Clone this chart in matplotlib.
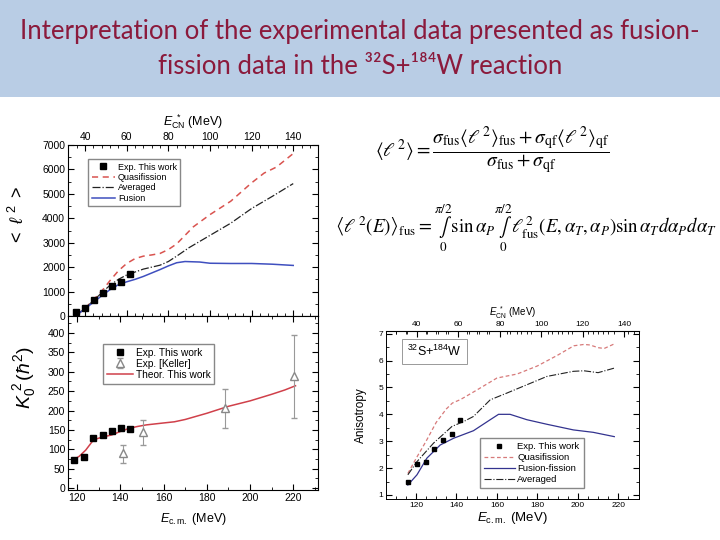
import matplotlib
matplotlib.use('Agg')
from matplotlib import pyplot as plt
from matplotlib.patches import Rectangle
from matplotlib.ticker import MultipleLocator, AutoMinorLocator

plt.rcParams['font.family'] = ['Liberation Sans', 'DejaVu Sans']
plt.rcParams['mathtext.fontset'] = 'custom'
plt.rcParams['mathtext.rm'] = 'Liberation Sans'
plt.rcParams['mathtext.it'] = 'Liberation Sans:italic'
plt.rcParams['mathtext.bf'] = 'Liberation Sans:bold'
plt.rcParams['mathtext.sf'] = 'Liberation Sans'

# <l^2> vs E*_CN (top left)
l2_exp_x = [35.6, 39.8, 44.3, 48.7, 52.8, 57.1, 61.6]
l2_exp_y = [150, 315, 645, 945, 1215, 1405, 1720]
l2_qf_x = [36, 40, 44, 48, 52, 56, 60, 64, 68, 72, 76, 80, 84, 88, 92, 100, 110, 120, 126, 132, 140]
l2_qf_y = [40, 320, 660, 1020, 1450, 1850, 2150, 2350, 2450, 2500, 2560, 2720, 2950, 3300, 3650, 4150, 4700, 5450, 5850, 6100, 6650]
l2_avg_x = [36, 40, 44, 48, 52, 56, 60, 64, 68, 72, 76, 80, 84, 90, 100, 110, 120, 130, 140]
l2_avg_y = [40, 310, 630, 950, 1260, 1500, 1680, 1800, 1920, 2000, 2080, 2230, 2450, 2800, 3300, 3800, 4400, 4900, 5420]
l2_fus_x = [36, 40, 44, 48, 52, 56, 60, 64, 68, 72, 76, 80, 84, 88, 95, 100, 110, 120, 130, 140]
l2_fus_y = [40, 300, 560, 830, 1080, 1280, 1400, 1500, 1620, 1760, 1900, 2050, 2180, 2230, 2210, 2160, 2150, 2150, 2120, 2070]

# K0^2 vs Ecm (bottom left)
k_exp_x = [118.5, 123, 127.5, 131.8, 136, 140.3, 144.5]
k_exp_y = [72, 81, 130, 138, 148, 156, 153]
keller_x = [141.4, 150.7, 188.2, 220.1]
keller_y = [90, 145, 207, 288]
keller_lo = [65, 112, 155, 180]
keller_hi = [112, 175, 255, 395]
theo_x = [118, 121, 124, 127, 129, 132, 136, 140, 144, 148, 152, 160, 165, 170, 180, 190, 200, 210, 216, 221]
theo_y = [72, 82, 98, 120, 127, 132, 137, 146, 154, 159, 163, 168, 171, 177, 193, 211, 225, 242, 253, 264]

# Anisotropy vs Ecm (bottom right)
ani_exp_x = [116.0, 120.5, 124.9, 129.0, 133.5, 137.8, 141.9]
ani_exp_y = [1.50, 2.16, 2.24, 2.71, 3.04, 3.27, 3.80]
ani_qf_x = [116, 120, 125, 130, 135, 138, 142, 150, 160, 170, 180, 190, 198, 203, 206, 210, 213, 218]
ani_qf_y = [1.8, 2.35, 3.0, 3.7, 4.2, 4.42, 4.55, 4.9, 5.35, 5.5, 5.8, 6.2, 6.55, 6.6, 6.58, 6.48, 6.45, 6.62]
ani_avg_x = [116, 120.5, 128.7, 137.8, 143.5, 148.4, 156.7, 164.9, 174.8, 184.7, 197.8, 203, 210, 218]
ani_avg_y = [1.75, 2.24, 2.93, 3.55, 3.73, 3.92, 4.54, 4.79, 5.1, 5.41, 5.6, 5.62, 5.55, 5.72]
ani_fus_x = [116, 120.5, 125.4, 132, 138.6, 148.4, 156.7, 160.8, 166.5, 174.8, 184.7, 197.8, 207.6, 218]
ani_fus_y = [1.37, 1.75, 2.37, 2.86, 3.11, 3.39, 3.8, 4.0, 4.0, 3.8, 3.63, 3.42, 3.33, 3.17]


def style_ticks(ax, size=7):
    ax.tick_params(which='both', direction='in', top=True, right=True, labelsize=size, pad=2)
    ax.tick_params(which='major', length=4, width=0.8)
    ax.tick_params(which='minor', length=2, width=0.6)


fig = plt.figure(figsize=(7.2, 5.4), dpi=100)

# title banner
fig.patches.append(Rectangle((0, 0.82), 1, 0.18, transform=fig.transFigure,
                             facecolor='#B9CDE5', edgecolor='none', zorder=0))
title_kw = dict(ha='center', va='center', fontsize=18.5, color='#8B1A3C',
                family=['Lato', 'DejaVu Sans'])
fig.text(0.5, 1 - 32 / 540, 'Interpretation of the experimental data presented as fusion-', **title_kw)
fig.text(0.5, 1 - 67 / 540, 'fission data in the \u00b3\u00b2S+\u00b9\u2078\u2074W reaction', **title_kw)

# top left panel
ax1 = fig.add_axes([68 / 720, 1 - 316 / 540, 250 / 720, 171 / 540])
ax1.plot(l2_qf_x, l2_qf_y, '--', color='#D9534F', lw=1.1, label='Quasifission', dashes=(4, 3))
ax1.plot(l2_avg_x, l2_avg_y, '-.', color='#222222', lw=0.9, label='Averaged')
ax1.plot(l2_fus_x, l2_fus_y, '-', color='#3F4FBF', lw=1.1, label='Fusion')
ax1.plot(l2_exp_x, l2_exp_y, 's', color='black', ms=4.5, label='Exp. This work', zorder=5)
ax1.set_xlim(31.8, 151.9)
ax1.set_ylim(0, 7000)
ax1.xaxis.set_major_locator(MultipleLocator(20))
ax1.xaxis.set_minor_locator(AutoMinorLocator(5))
ax1.yaxis.set_major_locator(MultipleLocator(1000))
ax1.yaxis.set_minor_locator(AutoMinorLocator(2))
style_ticks(ax1, size=7.5)
ax1.tick_params(axis='x', labelbottom=False, labeltop=True)
ax1.xaxis.set_label_position('top')
ax1.set_xlabel(r'$E^{\ *}_{\mathrm{CN}}$ (MeV)', fontsize=9, labelpad=5)
ax1.set_ylabel(r'$<\ \ell^{\ 2}\ >$', fontsize=13)
ax1.yaxis.set_label_coords(-0.16, 0.59)
h, l = ax1.get_legend_handles_labels()
order = [3, 0, 1, 2]
ax1.legend([h[i] for i in order], [l[i] for i in order], loc='upper left',
           bbox_to_anchor=(0.08, 0.918), borderaxespad=0, fontsize=6.5,
           frameon=True, fancybox=False, edgecolor='#888888', framealpha=1,
           handlelength=2.6, handletextpad=0.3, labelspacing=0.15, borderpad=0.4)

# bottom left panel
ax2 = fig.add_axes([68 / 720, 1 - 490 / 540, 250 / 720, 174 / 540])
ax2.plot(theo_x, theo_y, '-', color='#D0404A', lw=1.1, label='Theor. This work')
ax2.errorbar(keller_x, keller_y,
             yerr=[[y - lo for y, lo in zip(keller_y, keller_lo)],
                   [hi - y for y, hi in zip(keller_y, keller_hi)]],
             fmt='^', mfc='white', mec='#888888', ecolor='#999999', ms=6,
             elinewidth=0.8, capsize=2.5, label='Exp. [Keller]', zorder=4)
ax2.plot(k_exp_x, k_exp_y, 's', color='black', ms=4.5, label='Exp. This work', zorder=5)
ax2.set_xlim(115.8, 231.4)
ax2.set_ylim(-5, 444)
ax2.xaxis.set_major_locator(MultipleLocator(20))
ax2.xaxis.set_minor_locator(AutoMinorLocator(2))
ax2.yaxis.set_major_locator(MultipleLocator(50))
ax2.yaxis.set_minor_locator(AutoMinorLocator(2))
style_ticks(ax2, size=7.5)
ax2.set_xlabel(r'$E_{\mathrm{c.m.}}$ (MeV)', fontsize=9, labelpad=6)
ax2.set_ylabel(r'$K_0^{\ 2}\,(\hbar^2)$', fontsize=14)
ax2.yaxis.set_label_coords(-0.12, 0.644)
h, l = ax2.get_legend_handles_labels()
order = [1, 2, 0]
ax2.legend([h[i] for i in order], [l[i] for i in order], loc='upper left',
           bbox_to_anchor=(0.14, 0.839), borderaxespad=0, fontsize=7.3,
           frameon=True, fancybox=False, edgecolor='#888888', framealpha=1,
           handlelength=2.6, handletextpad=0.3, labelspacing=0.12, borderpad=0.35)

# right panel
ax3 = fig.add_axes([386 / 720, 1 - 499 / 540, 253 / 720, 168 / 540])
ax3.plot(ani_exp_x, ani_exp_y, 's', color='black', ms=3.5, label='Exp. This work', zorder=5)
ax3.plot(ani_qf_x, ani_qf_y, '--', color='#D77A7A', lw=0.9, dashes=(3, 2), label='Quasifission')
ax3.plot(ani_fus_x, ani_fus_y, '-', color='#33338F', lw=0.9, label='Fusion-fission')
ax3.plot(ani_avg_x, ani_avg_y, '-.', color='#222222', lw=0.8, label='Averaged')
ax3.set_xlim(105.2, 230.2)
ax3.set_ylim(0.85, 7.1)
ax3.xaxis.set_major_locator(MultipleLocator(20))
ax3.xaxis.set_minor_locator(AutoMinorLocator(4))
ax3.yaxis.set_major_locator(MultipleLocator(1))
ax3.yaxis.set_minor_locator(AutoMinorLocator(2))
style_ticks(ax3, size=6)
ax3.tick_params(top=False)
for s in ax3.spines.values():
    s.set_linewidth(0.7)
ax3.set_xlabel(r'$E_{\mathrm{c.m.}}$ (MeV)', fontsize=9.5, labelpad=1)
ax3.set_ylabel('Anisotropy', fontsize=8.5, labelpad=8)
sec = ax3.secondary_xaxis('top', functions=(lambda x: 0.9775 * x - 77.8,
                                             lambda e: (e + 77.8) / 0.9775))
sec.xaxis.set_major_locator(MultipleLocator(20))
sec.xaxis.set_minor_locator(AutoMinorLocator(4))
sec.tick_params(which='both', direction='in', labelsize=6, pad=2)
sec.tick_params(which='major', length=4, width=0.8)
sec.tick_params(which='minor', length=2, width=0.6)
sec.set_xlabel(r'$E^{\ *}_{\mathrm{CN}}$ (MeV)', fontsize=7, labelpad=4)
ax3.legend(loc='lower left', bbox_to_anchor=(0.372, 0.065), borderaxespad=0,
           fontsize=6.8, frameon=True, fancybox=False, edgecolor='#888888',
           framealpha=1, handlelength=3.2, handletextpad=0.3,
           labelspacing=0.2, borderpad=0.45)
ax3.text(0.192, 0.88, r'$^{32}$S+$^{184}$W', transform=ax3.transAxes,
         ha='center', va='center', fontsize=9,
         bbox=dict(boxstyle='square,pad=0.4', fc='white', ec='#999999', lw=0.7))

# equations
fig.text(375 / 720, 1 - 150 / 540,
         r'$\left\langle \ell^{\,2} \right\rangle = '
         r'\dfrac{\sigma_{\mathrm{fus}}\left\langle \ell^{\,2} \right\rangle_{\mathrm{fus}}'
         r' + \sigma_{\mathrm{qf}}\left\langle \ell^{\,2} \right\rangle_{\mathrm{qf}}}'
         r'{\sigma_{\mathrm{fus}} + \sigma_{\mathrm{qf}}}$',
         ha='left', va='center', fontsize=14, math_fontfamily='stix')
fig.text(335 / 720, 1 - 228 / 540,
         r'$\left\langle \ell^{\,2}(E) \right\rangle_{\mathrm{fus}} = '
         r'\overset{\pi/2}{\underset{0}{\int}} \sin\alpha_P '
         r'\overset{\pi/2}{\underset{0}{\int}} \ell^{\,2}_{\mathrm{fus}}(E,\alpha_T,\alpha_P)'
         r'\sin\alpha_T d\alpha_P d\alpha_T$',
         ha='left', va='center', fontsize=13.5, math_fontfamily='stix')

fig.savefig('out.png', dpi=100, facecolor='white')
